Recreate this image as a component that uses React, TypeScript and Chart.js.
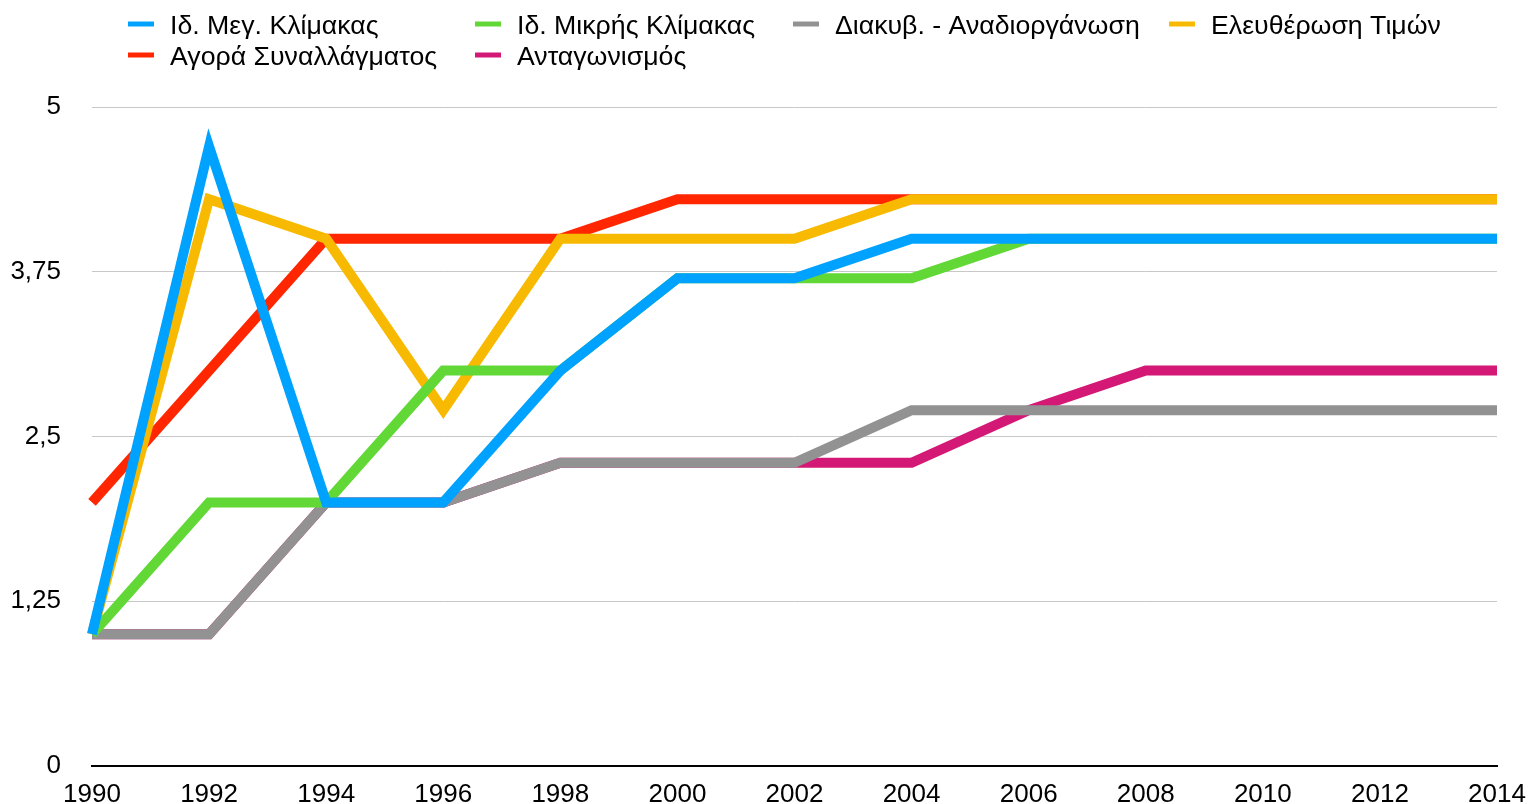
import React, { useEffect, useRef } from 'react';
import { Chart, registerables } from 'chart.js';

Chart.register(...registerables);

const years = ['1990', '1992', '1994', '1996', '1998', '2000', '2002', '2004', '2006', '2008', '2010', '2012', '2014'];

const seriesNames = [
  'Ιδ. Μεγ. Κλίμακας',
  'Ιδ. Μικρής Κλίμακας',
  'Διακυβ. - Αναδιοργάνωση',
  'Ελευθέρωση Τιμών',
  'Αγορά Συναλλάγματος',
  'Ανταγωνισμός',
];

const seriesColors = ['#00a2ff', '#61d836', '#929292', '#f8ba00', '#ff2600', '#d31876'];

const largeScale = [1, 4.7, 2, 2, 3, 3.7, 3.7, 4, 4, 4, 4, 4, 4];
const smallScale = [1, 2, 2, 3, 3, 3.7, 3.7, 3.7, 4, 4, 4, 4, 4];
const governance = [1, 1, 2, 2, 2.3, 2.3, 2.3, 2.7, 2.7, 2.7, 2.7, 2.7, 2.7];
const priceLiberalisation = [1, 4.3, 4, 2.7, 4, 4, 4, 4.3, 4.3, 4.3, 4.3, 4.3, 4.3];
const forexMarket = [2, 3, 4, 4, 4, 4.3, 4.3, 4.3, 4.3, 4.3, 4.3, 4.3, 4.3];
const competition = [1, 1, 2, 2, 2.3, 2.3, 2.3, 2.3, 2.7, 3, 3, 3, 3];

const yTickValues = [0, 1.25, 2.5, 3.75, 5];

const seriesValues = [largeScale, smallScale, governance, priceLiberalisation, forexMarket, competition];

const FONT = '"Liberation Sans", Arial, Helvetica, sans-serif';

const legendColumnX = [128, 475, 793, 1169];
const legendRowY = [24, 55];

const columnLegend = {
  id: 'columnLegend',
  afterDraw(chart: any) {
    const ctx = chart.ctx;
    ctx.save();
    chart.data.datasets.forEach((ds: any, i: number) => {
      const col = i % 4;
      const row = Math.floor(i / 4);
      const x = legendColumnX[col];
      const y = legendRowY[row];
      ctx.strokeStyle = ds.borderColor;
      ctx.lineWidth = 5;
      ctx.lineCap = 'butt';
      ctx.beginPath();
      ctx.moveTo(x, y);
      ctx.lineTo(x + 26, y);
      ctx.stroke();
      ctx.fillStyle = '#000';
      ctx.font = `26.7px ${FONT}`;
      ctx.textBaseline = 'alphabetic';
      ctx.textAlign = 'left';
      ctx.fillText(ds.label, x + 42, y + 10);
    });
    ctx.restore();
  },
};

export default function App() {
  const canvasRef = useRef<HTMLCanvasElement | null>(null);

  useEffect(() => {
    document.body.style.margin = '0';
    const canvas = canvasRef.current;
    if (!canvas) return;
    const chart = new Chart(canvas, {
      type: 'line',
      data: {
        labels: years,
        datasets: seriesNames.map((name, i) => ({
          label: name,
          data: seriesValues[i],
          borderColor: seriesColors[i],
          backgroundColor: seriesColors[i],
          borderWidth: 10,
          pointRadius: 0,
          pointHoverRadius: 0,
          tension: 0,
          fill: false,
          borderJoinStyle: 'miter',
          borderCapStyle: 'butt',
        })),
      },
      options: {
        responsive: false,
        animation: false,
        devicePixelRatio: 1,
        layout: { padding: { top: 107, right: 33, bottom: 0, left: 0 } },
        plugins: {
          legend: { display: false },
          tooltip: { enabled: false },
        },
        scales: {
          x: {
            type: 'category',
            offset: false,
            grid: { display: false, drawTicks: false },
            border: { display: true, color: '#000', width: 2 },
            ticks: {
              color: '#000',
              font: { family: FONT, size: 26 },
              padding: 13,
              maxRotation: 0,
              autoSkip: false,
            },
            afterFit: (s: any) => {
              s.height = 38;
              s.paddingLeft = 0;
              s.paddingRight = 0;
            },
          },
          y: {
            min: 0,
            max: 5,
            grid: { color: '#c8c8c8', lineWidth: 1, drawTicks: false },
            border: { display: false },
            afterBuildTicks: (s: any) => {
              s.ticks = yTickValues.map((v) => ({ value: v }));
            },
            ticks: {
              color: '#000',
              font: { family: FONT, size: 26 },
              padding: 31,
              callback: (v: any) => String(v).replace('.', ','),
            },
            afterFit: (s: any) => {
              s.width = 92;
              s.paddingTop = 0;
              s.paddingBottom = 0;
            },
          },
        },
      },
      plugins: [columnLegend],
    });
    return () => chart.destroy();
  }, []);

  return (
    <div style={{ width: 1530, height: 804, position: 'relative' }}>
      <canvas ref={canvasRef} width={1530} height={804} style={{ display: 'block' }} />
    </div>
  );
}
